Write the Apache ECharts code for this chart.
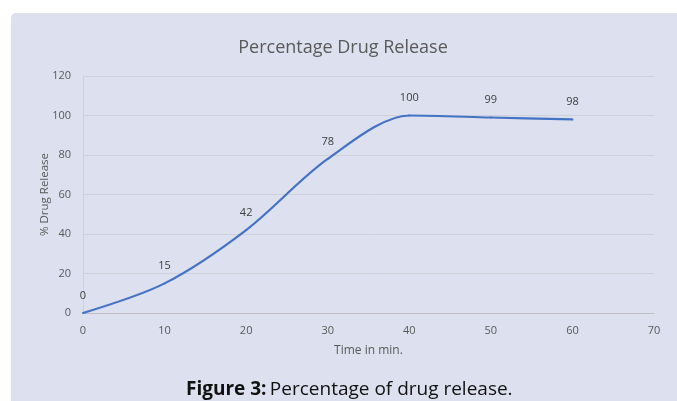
<!DOCTYPE html>
<html>
<head>
<meta charset="utf-8">
<script src="https://cdn.jsdelivr.net/npm/echarts@6/dist/echarts.min.js"></script>
<style>
  html, body { margin: 0; padding: 0; background: #ffffff; }
  #chart { width: 677px; height: 401px; }
</style>
</head>
<body>
<div id="chart"></div>
<script>
// Dissolution profile: time (min) vs cumulative % drug released
const timeMin = [0, 10, 20, 30, 40, 50, 60];
const releasePct = [0, 15, 42, 78, 100, 99, 98];
const xTicks = { min: 0, max: 70, interval: 10 };
const yTicks = { min: 0, max: 120, interval: 20 };

const chart = echarts.init(document.getElementById('chart'), null, { renderer: 'canvas' });
const labelFont = '"Open Sans", "Noto Sans", sans-serif';
const grey = '#595959';
const lineBlue = '#4472c4';

chart.setOption({
  backgroundColor: '#ffffff',
  animation: false,
  textStyle: { fontFamily: labelFont },
  title: {
    text: 'Percentage Drug Release',
    left: 338,
    top: 34,
    textAlign: 'center',
    textStyle: { fontFamily: labelFont, fontSize: 18, fontWeight: 'normal', color: grey }
  },
  graphic: [
    {
      type: 'rect',
      z: -10,
      silent: true,
      shape: { x: 11, y: 13, width: 680, height: 400, r: [5, 0, 0, 0] },
      style: { fill: '#dde0ee' }
    },
    {
      type: 'text',
      left: 186,
      top: 380,
      style: {
        text: '{b|Figure 3:} {n|Percentage of drug release.}',
        rich: {
          b: { fontFamily: labelFont, fontSize: 19, fontWeight: 'bold', fill: '#111111' },
          n: { fontFamily: labelFont, fontSize: 19, fill: '#111111' }
        }
      }
    }
  ],
  grid: { left: 83, right: 23, top: 76, bottom: 88, containLabel: false },
  xAxis: {
    type: 'value',
    min: xTicks.min,
    max: xTicks.max,
    interval: xTicks.interval,
    name: 'Time in min.',
    nameLocation: 'middle',
    nameGap: 32,
    nameMoveOverlap: false,
    nameTextStyle: { color: grey, fontSize: 12 },
    axisLine: { show: true, lineStyle: { color: '#bfbfbf', width: 1 } },
    axisTick: { show: false },
    axisLabel: { color: grey, fontSize: 11, margin: 12 },
    splitLine: { show: false }
  },
  yAxis: {
    type: 'value',
    min: yTicks.min,
    max: yTicks.max,
    interval: yTicks.interval,
    name: '% Drug Release',
    nameLocation: 'middle',
    nameGap: 32,
    nameMoveOverlap: false,
    nameTextStyle: { color: grey, fontSize: 11.5 },
    axisLine: { show: true, lineStyle: { color: '#cfd1da', width: 1 } },
    axisTick: { show: false },
    axisLabel: { color: grey, fontSize: 11, margin: 12 },
    splitLine: { show: true, lineStyle: { color: '#cfd1da', width: 1 } }
  },
  series: [{
    type: 'line',
    data: timeMin.map((t, i) => [t, releasePct[i]]),
    smooth: 0.3,
    symbol: 'circle',
    symbolSize: 2,
    showSymbol: true,
    itemStyle: { color: lineBlue },
    lineStyle: { color: lineBlue, width: 2.2 },
    label: {
      show: true,
      position: 'top',
      distance: 11,
      color: '#404040',
      fontSize: 11,
      formatter: p => String(p.value[1])
    }
  }]
});
</script>
</body>
</html>
